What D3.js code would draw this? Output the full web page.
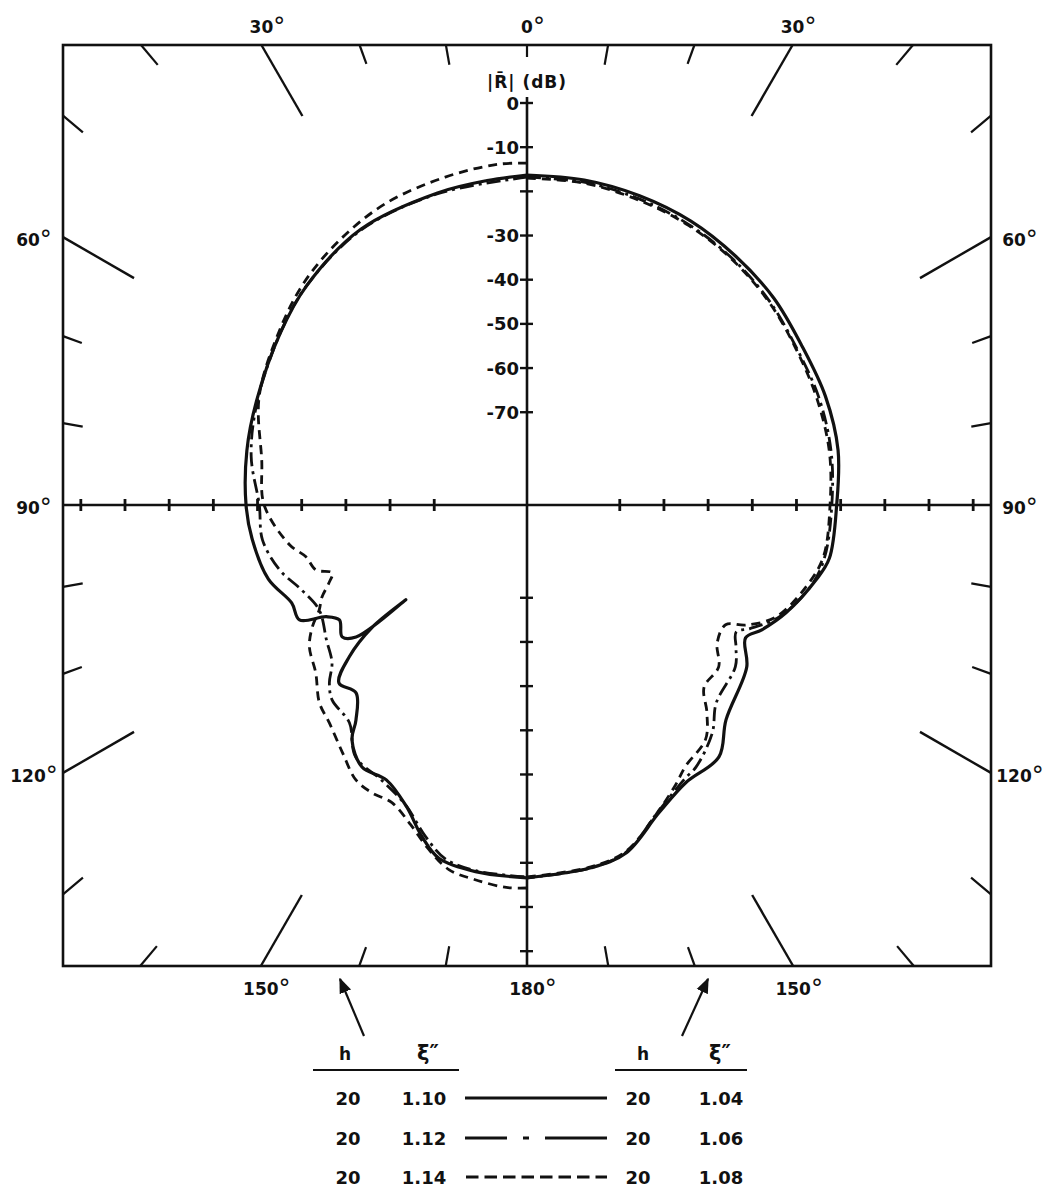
<!DOCTYPE html>
<html>
<head>
<meta charset="utf-8">
<script src="https://cdn.jsdelivr.net/npm/d3@7"></script>
<style>
  html, body { margin: 0; padding: 0; background: #fff; }
  svg { display: block; }
  text { font-family: "DejaVu Sans", "Liberation Sans", sans-serif; fill: #111; }
</style>
</head>
<body>
<div id="chart"></div>
<script>
// ---------------- DATA ----------------
// angles in degrees measured from 0° (top), left-hand side drawn counter-clockwise
// |R| values in dB

// h = 20, eps'' = 1.10 (left, solid)
const solidLeftAng = [0, 7, 16, 31, 45, 55, 69, 79, 90, 97, 106, 112.6, 116.8, 119.1, 121.5, 125.5, 127.7, 128.0, 128.3, 130.5, 133.4, 137.7, 141.5, 143.3, 147.8, 152.9, 158.2, 162.4, 166, 172, 180];
const solidLeftDb  = [-16.3, -17.0, -17.5, -18.1, -20.6, -22.9, -25.4, -26.4, -27.4, -28.3, -30.1, -33.3, -33.3, -39.0, -41.2, -39.6, -42.1, -56.2, -46.4, -38.1, -32.4, -33.5, -28.8, -24.7, -20.9, -21.1, -17.5, -12.3, -8.6, -7.2, -6.6];
// h = 20, eps'' = 1.12 (left, dash-dot)
const dashDotLeftAng = [0, 16, 31, 45, 55, 69, 80, 90, 97.5, 104.7, 110.7, 116.8, 123.9, 129, 132, 135, 140.8, 145.8, 152, 158, 163, 167, 172, 180];
const dashDotLeftDb  = [-16.8, -17.7, -18.3, -20.6, -22.9, -25.6, -27.6, -30.4, -30.6, -33.1, -36.5, -38.3, -36.3, -34.2, -30.8, -28.6, -27.4, -22.0, -20.6, -17.7, -12.5, -8.8, -7.4, -6.8];
// h = 20, eps'' = 1.14 (left, dashed)
const dashedLeftAng = [0, 5, 14, 25, 35, 45, 55, 68, 80.4, 90, 99.5, 103.2, 107.1, 109.2, 111.5, 114.2, 116.8, 119.6, 123.1, 128.5, 133.6, 137.8, 143.3, 148.1, 151.7, 155.6, 160, 164, 167.9, 172, 176.9, 180];
const dashedLeftDb  = [-13.6, -13.6, -14.5, -15.6, -17.5, -19.7, -22.5, -25.6, -30.1, -31.5, -36.5, -39.6, -41.0, -44.3, -42.8, -40.1, -38.3, -35.1, -32.2, -29.9, -26.1, -24.4, -21.1, -17.7, -17.0, -17.0, -14.0, -10.0, -6.6, -5.4, -4.3, -4.3];

// h = 20, eps'' = 1.04 (right, solid)
const solidRightAng = [0, 10, 20, 30, 40, 50, 60, 70, 80, 90, 100, 104.5, 112.6, 118, 121.3, 126.4, 137.2, 142.7, 150.2, 156.8, 164.1, 170, 180];
const solidRightDb  = [-16.3, -16.3, -16.5, -16.8, -17.5, -18.1, -19.1, -19.1, -19.5, -20.9, -21.5, -23.4, -27.5, -30.8, -33.1, -29.2, -24.7, -19.3, -18.6, -15.2, -9.1, -7.6, -6.6];
// h = 20, eps'' = 1.06 (right, dash-dot)
const dashDotRightAng = [0, 10, 20, 30, 40, 50, 60, 70, 80, 90, 100, 106, 114, 119, 121.3, 124.2, 127.8, 136.3, 140.9, 147.2, 150, 157, 164, 170, 180];
const dashDotRightDb  = [-16.8, -16.8, -17.2, -17.7, -18.4, -19.3, -20.4, -20.6, -21.1, -22.0, -22.6, -24.2, -28.6, -33.3, -35.6, -33.8, -31.3, -29.0, -24.5, -20.4, -19.5, -15.4, -9.3, -7.6, -6.6];
// h = 20, eps'' = 1.08 (right, dashed)
const dashedRightAng = [0, 10, 20, 30, 40, 50, 60, 70, 80, 90, 100, 106.4, 114.2, 118.7, 121.1, 126, 130.2, 135.8, 139.1, 142.7, 148.8, 152, 157, 164, 170, 180];
const dashedRightDb  = [-17.0, -17.0, -17.5, -17.9, -18.6, -19.5, -20.6, -21.1, -21.5, -22.4, -22.9, -25.2, -29.2, -34.4, -38.5, -37.8, -34.2, -33.5, -28.8, -24.3, -21.8, -19.3, -15.4, -9.5, -7.8, -6.8];

// tick labels
const radialLabelTicks = [0, -10, -30, -40, -50, -60, -70];
const verticalTopTicks = [0, -10, -20, -30, -40, -50, -60, -70];
const verticalBottomTicks = [-70, -60, -50, -40, -30, -20, -10, 0, 10];
const horizontalTicks = [-70, -60, -50, -40, -30, -20, -10, 0, 10];
const frameTickAngles = [0, 10, 20, 30, 40, 50, 60, 70, 80, 100, 110, 120, 130, 140, 150, 160, 170,
                         190, 200, 210, 220, 230, 240, 250, 260, 280, 290, 300, 310, 320, 330, 340, 350];
const angleLabelAngles = [0, 30, 60, 90, 120, 150, 180, 210, 240, 270, 300, 330];

// legend
const legendH = ["20", "20", "20"];
const legendEpsLeft = ["1.10", "1.12", "1.14"];
const legendEpsRight = ["1.04", "1.06", "1.08"];

// ---------------- LAYOUT ----------------
const W = 1048, H = 1190;
const cx = 527, cy = 505;
const fx0 = 63, fx1 = 991, fy0 = 45, fy1 = 966;
const rScale = d3.scaleLinear().domain([-91, 0]).range([0, 402]);
const toRad = Math.PI / 180;

const svg = d3.select("#chart").append("svg").attr("width", W).attr("height", H);
svg.append("rect").attr("width", W).attr("height", H).attr("fill", "#fff");

// frame
svg.append("rect").attr("x", fx0).attr("y", fy0).attr("width", fx1 - fx0).attr("height", fy1 - fy0)
  .attr("fill", "none").attr("stroke", "#111").attr("stroke-width", 2.6);

function borderHit(aDeg) {
  const dx = Math.sin(aDeg * toRad), dy = -Math.cos(aDeg * toRad);
  let t = Infinity;
  if (dx > 1e-9) t = Math.min(t, (fx1 - cx) / dx);
  if (dx < -1e-9) t = Math.min(t, (fx0 - cx) / dx);
  if (dy > 1e-9) t = Math.min(t, (fy1 - cy) / dy);
  if (dy < -1e-9) t = Math.min(t, (fy0 - cy) / dy);
  return { t, dx, dy, x: cx + t * dx, y: cy + t * dy };
}

// frame ticks
const g = svg.append("g");
frameTickAngles.forEach(a => {
  const h = borderHit(a);
  const long = (a % 30 === 0) && a !== 0 && a !== 180;
  let L = long ? 82 : (a === 0 ? 12 : 20);
  const m = a % 180;
  if (!long && (m === 40 || m === 50 || m === 130 || m === 140)) L = 26;
  g.append("line")
    .attr("x1", h.x).attr("y1", h.y)
    .attr("x2", cx + (h.t - L) * h.dx).attr("y2", cy + (h.t - L) * h.dy)
    .attr("stroke", "#111").attr("stroke-width", long ? 2.4 : 2.2);
});

// axes lines
svg.append("line").attr("x1", fx0).attr("x2", fx1).attr("y1", cy).attr("y2", cy)
  .attr("stroke", "#111").attr("stroke-width", 2.4);
svg.append("line").attr("x1", cx).attr("x2", cx).attr("y1", cy - rScale(0) - 6).attr("y2", fy1)
  .attr("stroke", "#111").attr("stroke-width", 2.6);

// axis ticks
verticalTopTicks.forEach(v => {
  const y = cy - rScale(v);
  svg.append("line").attr("x1", cx - 7).attr("x2", cx + 6).attr("y1", y).attr("y2", y)
    .attr("stroke", "#111").attr("stroke-width", 2.4);
});
verticalBottomTicks.forEach(v => {
  const y = cy + rScale(v);
  svg.append("line").attr("x1", cx - 7).attr("x2", cx + 6).attr("y1", y).attr("y2", y)
    .attr("stroke", "#111").attr("stroke-width", 2.4);
});
horizontalTicks.forEach(v => {
  [-1, 1].forEach(s => {
    const x = cx + s * rScale(v);
    svg.append("line").attr("x1", x).attr("x2", x).attr("y1", cy - 6).attr("y2", cy + 6)
      .attr("stroke", "#111").attr("stroke-width", 2.8);
  });
});

// radial labels
radialLabelTicks.forEach(v => {
  svg.append("text").attr("x", cx - 8).attr("y", cy - rScale(v) + 6.5)
    .attr("text-anchor", "end").attr("font-size", 18).attr("font-weight", "bold")
    .text(v === 0 ? "0" : String(v).replace("-", "-"));
});
svg.append("text").attr("x", cx).attr("y", 88).attr("text-anchor", "middle")
  .attr("font-size", 17).attr("font-weight", "bold").attr("letter-spacing", 1)
  .text("|R\u0304| (dB)");

// angle labels
function degLabel(x, y, val, anchor) {
  const t = svg.append("text").attr("x", x).attr("y", y).attr("text-anchor", anchor)
    .attr("font-size", 17).attr("font-weight", "bold");
  t.append("tspan").text(val);
  t.append("tspan").attr("font-size", 24).attr("font-weight", "normal").attr("dy", 2).text("\u00B0");
}
angleLabelAngles.forEach(a => {
  const h = borderHit(a);
  const val = a <= 180 ? a : 360 - a;
  if (Math.abs(h.y - fy0) < 1) degLabel(h.x + 6, 33, val, "middle");
  else if (Math.abs(h.y - fy1) < 1) degLabel(h.x + 6, 995, val, "middle");
  else if (Math.abs(h.x - fx0) < 1) degLabel(34, h.y + 9, val, "middle");
  else degLabel(1020, h.y + 9, val, "middle");
});

// ---------------- CURVES ----------------
function zip(angs, dbs) { return angs.map((a, i) => ({ a, db: dbs[i] })); }
const curveSets = [
  { data: zip(dashedLeftAng, dashedLeftDb), side: -1, dash: "9,6", w: 2.8 },
  { data: zip(dashedRightAng, dashedRightDb), side: 1, dash: "9,6", w: 2.8 },
  { data: zip(dashDotLeftAng, dashDotLeftDb), side: -1, dash: "14,5,3,5", w: 2.8 },
  { data: zip(dashDotRightAng, dashDotRightDb), side: 1, dash: "14,5,3,5", w: 2.8 },
  { data: zip(solidLeftAng, solidLeftDb), side: -1, dash: null, w: 3.2 },
  { data: zip(solidRightAng, solidRightDb), side: 1, dash: null, w: 3.2 }
];
const plotG = svg.append("g").attr("transform", `translate(${cx},${cy})`);
curveSets.forEach(cs => {
  const line = d3.lineRadial()
    .angle(d => cs.side * d.a * toRad)
    .radius(d => rScale(d.db))
    .curve(d3.curveCatmullRom.alpha(0.5));
  plotG.append("path").attr("d", line(cs.data))
    .attr("fill", "none").attr("stroke", "#111").attr("stroke-width", cs.w)
    .attr("stroke-linejoin", "round")
    .attr("stroke-dasharray", cs.dash);
});

// ---------------- ARROWS ----------------
const defs = svg.append("defs");
defs.append("marker").attr("id", "ah").attr("viewBox", "0 0 10 10").attr("refX", 9).attr("refY", 5)
  .attr("markerWidth", 7).attr("markerHeight", 7).attr("orient", "auto")
  .append("path").attr("d", "M0,1 L10,5 L0,9 Z").attr("fill", "#111");
[[364, 1036, 340, 979], [682, 1036, 708, 979]].forEach(p => {
  svg.append("line").attr("x1", p[0]).attr("y1", p[1]).attr("x2", p[2]).attr("y2", p[3])
    .attr("stroke", "#111").attr("stroke-width", 2.2).attr("marker-end", "url(#ah)");
});

// ---------------- LEGEND ----------------
svg.append("text").attr("x", 345).attr("y", 1060).attr("text-anchor", "middle").attr("font-size", 17).attr("font-weight", "bold").text("h");
svg.append("text").attr("x", 428).attr("y", 1060).attr("text-anchor", "middle").attr("font-size", 21).attr("font-weight", "bold").text("ξ\u2033");
svg.append("text").attr("x", 643).attr("y", 1060).attr("text-anchor", "middle").attr("font-size", 17).attr("font-weight", "bold").text("h");
svg.append("text").attr("x", 720).attr("y", 1060).attr("text-anchor", "middle").attr("font-size", 21).attr("font-weight", "bold").text("ξ\u2033");
svg.append("line").attr("x1", 313).attr("x2", 459).attr("y1", 1070).attr("y2", 1070).attr("stroke", "#111").attr("stroke-width", 2.2);
svg.append("line").attr("x1", 615).attr("x2", 747).attr("y1", 1070).attr("y2", 1070).attr("stroke", "#111").attr("stroke-width", 2.2);

const rowY = [1098, 1138, 1177];
legendH.forEach((h, i) => {
  const y = rowY[i];
  svg.append("text").attr("x", 348).attr("y", y + 7).attr("text-anchor", "middle").attr("font-size", 18).attr("font-weight", "bold").text(h);
  svg.append("text").attr("x", 424).attr("y", y + 7).attr("text-anchor", "middle").attr("font-size", 18).attr("font-weight", "bold").text(legendEpsLeft[i]);
  svg.append("text").attr("x", 638).attr("y", y + 7).attr("text-anchor", "middle").attr("font-size", 18).attr("font-weight", "bold").text(legendH[i]);
  svg.append("text").attr("x", 721).attr("y", y + 7).attr("text-anchor", "middle").attr("font-size", 18).attr("font-weight", "bold").text(legendEpsRight[i]);
});
// legend samples
svg.append("line").attr("x1", 465).attr("x2", 607).attr("y1", rowY[0]).attr("y2", rowY[0]).attr("stroke", "#111").attr("stroke-width", 3);
svg.append("line").attr("x1", 465).attr("x2", 607).attr("y1", rowY[1]).attr("y2", rowY[1]).attr("stroke", "#111").attr("stroke-width", 3)
  .attr("stroke-dasharray", "42,16,6,16,62");
svg.append("line").attr("x1", 466).attr("x2", 607).attr("y1", rowY[2]).attr("y2", rowY[2]).attr("stroke", "#111").attr("stroke-width", 3)
  .attr("stroke-dasharray", "12.5,6");
</script>
</body>
</html>
